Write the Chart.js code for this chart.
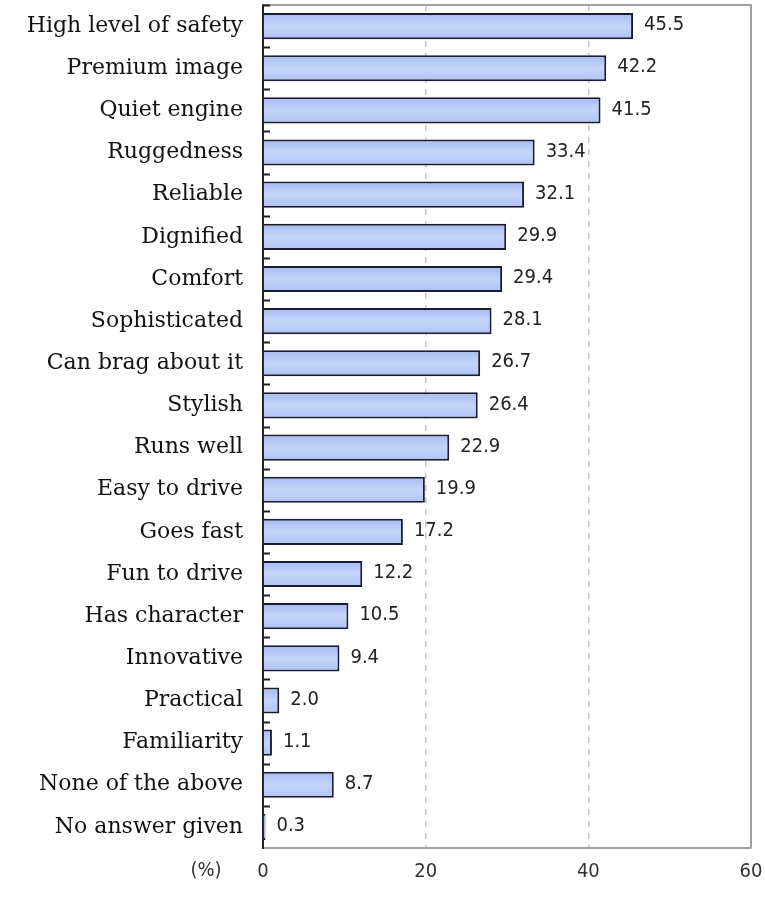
<!DOCTYPE html>
<html>
<head>
<meta charset="utf-8">
<script src="https://cdn.jsdelivr.net/npm/chart.js@4"></script>
<style>
  html, body { margin: 0; padding: 0; background: #fff; }
  #wrap { width: 765px; height: 899px; }
</style>
</head>
<body>
<div id="wrap"><canvas id="bar-chart" width="765" height="899"></canvas></div>
<script>
var categories = ["High level of safety", "Premium image", "Quiet engine", "Ruggedness", "Reliable",
  "Dignified", "Comfort", "Sophisticated", "Can brag about it", "Stylish", "Runs well",
  "Easy to drive", "Goes fast", "Fun to drive", "Has character", "Innovative", "Practical",
  "Familiarity", "None of the above", "No answer given"];
var values = [45.5, 42.2, 41.5, 33.4, 32.1, 29.9, 29.4, 28.1, 26.7, 26.4, 22.9,
  19.9, 17.2, 12.2, 10.5, 9.4, 2.0, 1.1, 8.7, 0.3];
var xTicks = [0, 20, 40, 60];
var unitLabel = "(%)";
var barPct = 0.62;
var sansFont = '"DejaVu Sans Condensed", "DejaVu Sans", sans-serif';

// value labels, frame, little ticks on the left axis
var extras = {
  id: 'extras',
  afterDatasetsDraw: function(chart) {
    var ctx = chart.ctx;
    var a = chart.chartArea;
    var meta = chart.getDatasetMeta(0);
    ctx.save();
    // frame top / right
    ctx.strokeStyle = '#a0a0a0';
    ctx.lineWidth = 2;
    ctx.beginPath();
    ctx.moveTo(a.left, a.top);
    ctx.lineTo(a.right, a.top);
    ctx.lineTo(a.right, a.bottom);
    ctx.stroke();
    // small ticks between categories
    ctx.strokeStyle = '#222';
    ctx.lineWidth = 2;
    var step = (a.bottom - a.top) / categories.length;
    for (var i = 0; i < categories.length; i++) {
      var y = Math.round(a.top + i * step) + 0.5;
      ctx.beginPath();
      ctx.moveTo(a.left, y);
      ctx.lineTo(a.left + 7, y);
      ctx.stroke();
    }
    // values
    ctx.fillStyle = '#222';
    ctx.font = '20px ' + sansFont;
    ctx.textBaseline = 'middle';
    ctx.textAlign = 'left';
    meta.data.forEach(function(bar, i) {
      ctx.fillText(values[i].toFixed(1), bar.x + 11, bar.y - 1);
    });
    // unit label
    ctx.fillStyle = '#333';
    ctx.textAlign = 'center';
    ctx.fillText(unitLabel, 206, 871);
    ctx.restore();
  }
};

new Chart(document.getElementById("bar-chart"), {
  type: 'bar',
  data: {
    labels: categories,
    datasets: [{
      data: values,
      backgroundColor: function(c) {
        var chart = c.chart;
        var a = chart.chartArea;
        var ys = chart.scales.y;
        if (!a || !ys || c.dataIndex === undefined) return '#b8caf7';
        var cy = ys.getPixelForValue(c.dataIndex);
        var h = (a.bottom - a.top) / categories.length * barPct;
        if (!isFinite(cy) || !isFinite(h)) return '#b8caf7';
        var g = chart.ctx.createLinearGradient(0, cy - h / 2, 0, cy + h / 2);
        g.addColorStop(0, '#a3baf2');
        g.addColorStop(0.5, '#c6d5fa');
        g.addColorStop(1, '#adc2f5');
        return g;
      },
      borderColor: '#1c1c30',
      borderWidth: { top: 2, right: 2, bottom: 2, left: 0 },
      borderSkipped: false,
      barPercentage: barPct,
      categoryPercentage: 1
    }]
  },
  options: {
    indexAxis: 'y',
    responsive: false,
    animation: false,
    layout: { padding: { top: 5, right: 14, left: 0, bottom: 0 } },
    plugins: {
      legend: { display: false },
      tooltip: { enabled: false }
    },
    scales: {
      x: {
        min: 0,
        max: 60,
        afterBuildTicks: function(scale) {
          scale.ticks = xTicks.map(function(v) { return { value: v }; });
        },
        afterFit: function(scale) {
          scale.height = 51;
          scale.paddingLeft = 0;
          scale.paddingRight = 0;
        },
        grid: {
          color: function(c) {
            return (c.tick && (c.tick.value === 20 || c.tick.value === 40)) ? '#c4c4c4' : 'rgba(0,0,0,0)';
          },
          lineWidth: 1.5,
          drawTicks: false
        },
        border: { display: true, color: '#a0a0a0', width: 2, dash: [6, 6] },
        ticks: {
          padding: 12,
          color: '#333',
          font: { family: sansFont, size: 20 }
        }
      },
      y: {
        afterFit: function(scale) {
          scale.width = 263;
          scale.paddingTop = 0;
          scale.paddingBottom = 0;
        },
        grid: { display: false },
        border: { display: true, color: '#222', width: 2 },
        ticks: {
          padding: 12,
          color: '#111',
          font: { family: '"DejaVu Serif", serif', size: 22 }
        }
      }
    }
  },
  plugins: [extras]
});
</script>
</body>
</html>
